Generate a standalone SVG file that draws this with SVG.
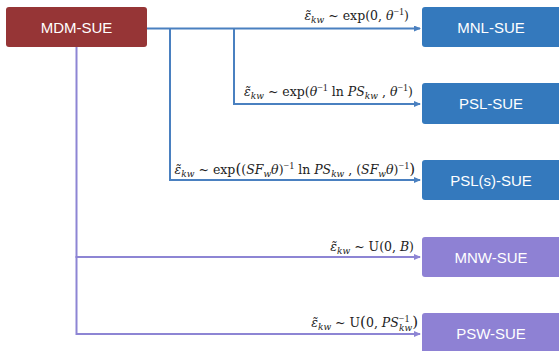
<svg xmlns="http://www.w3.org/2000/svg" width="559" height="351" viewBox="0 0 559 351">
<defs>
<marker id="ab" markerWidth="7" markerHeight="6" refX="6" refY="3" orient="auto" markerUnits="userSpaceOnUse"><path d="M0,0 L7,3 L0,6 z" fill="#4a80c0"/></marker>
<marker id="ap" markerWidth="7" markerHeight="6" refX="6" refY="3" orient="auto" markerUnits="userSpaceOnUse"><path d="M0,0 L7,3 L0,6 z" fill="#8d85d4"/></marker>
</defs>
<style>
.nb{fill:#3479bd}
.np{fill:#8e81d4}
.nr{fill:#963536}
.nt{font-family:"Liberation Sans",Arial,sans-serif;font-size:15px;fill:#ffffff;text-anchor:middle}
.cb{fill:none;stroke:#4a80c0;stroke-width:2;marker-end:url(#ab)}
.cp{fill:none;stroke:#8d85d4;stroke-width:2;marker-end:url(#ap)}
.lb{font-family:"DejaVu Serif","Liberation Serif",serif;font-size:12.5px;fill:#222222;text-anchor:end}
.i{font-style:italic}
.s{font-size:9px}
.u{font-family:"Liberation Serif",serif;font-size:10px}
</style>
<rect width="559" height="351" fill="#ffffff"/>
<g id="connectors">
<path class="cb" d="M147,28.5 H420"/>
<path class="cb" d="M170,28.5 V180 H420"/>
<path class="cb" d="M234,28.5 V104 H420"/>
<path class="cp" d="M76.5,47 V257 H420"/>
<path class="cp" d="M76.5,256 V334 H420"/>
<text class="lb" x="409" y="20"><tspan class="i">ε̃</tspan><tspan class="i s" dy="3">kw</tspan><tspan dy="-3"> ~ exp(0, </tspan><tspan class="i">θ</tspan><tspan class="u" dy="-5">−1</tspan><tspan dy="5">)</tspan></text>
<text class="lb" x="413" y="96"><tspan class="i">ε̃</tspan><tspan class="i s" dy="3">kw</tspan><tspan dy="-3"> ~ exp(</tspan><tspan class="i">θ</tspan><tspan class="u" dy="-5">−1</tspan><tspan dy="5"> ln </tspan><tspan class="i">PS</tspan><tspan class="i s" dy="3">kw</tspan><tspan dy="-3"> , </tspan><tspan class="i">θ</tspan><tspan class="u" dy="-5">−1</tspan><tspan dy="5">)</tspan></text>
<text class="lb" x="415" y="174"><tspan class="i">ε̃</tspan><tspan class="i s" dy="3">kw</tspan><tspan dy="-3"> ~ exp</tspan><tspan font-size="15">(</tspan><tspan>(</tspan><tspan class="i">SF</tspan><tspan class="i s" dy="3">w</tspan><tspan class="i" dy="-3">θ</tspan><tspan>)</tspan><tspan class="u" dy="-5">−1</tspan><tspan dy="5"> ln </tspan><tspan class="i">PS</tspan><tspan class="i s" dy="3">kw</tspan><tspan dy="-3"> , (</tspan><tspan class="i">SF</tspan><tspan class="i s" dy="3">w</tspan><tspan class="i" dy="-3">θ</tspan><tspan>)</tspan><tspan class="u" dy="-5">−1</tspan><tspan dy="5" font-size="15">)</tspan></text>
<text class="lb" x="414" y="251"><tspan class="i">ε̃</tspan><tspan class="i s" dy="3">kw</tspan><tspan dy="-3"> ~ U(0, </tspan><tspan class="i">B</tspan><tspan>)</tspan></text>
<text class="lb" x="418" y="327"><tspan class="i">ε̃</tspan><tspan class="i s" dy="3">kw</tspan><tspan dy="-3"> ~ U</tspan><tspan font-size="15">(</tspan><tspan>0, </tspan><tspan class="i">PS</tspan><tspan class="u" dy="-5">−1</tspan><tspan class="i s" dx="-10.5" dy="9">kw</tspan><tspan dy="-4" font-size="15">)</tspan></text>
</g>
<g id="mdm-sue"><rect class="nr" x="6" y="7" width="141" height="40" rx="3"/><text class="nt" x="76.5" y="32.5">MDM-SUE</text></g>
<g id="mnl-sue"><rect class="nb" x="422" y="7" width="140" height="40" rx="3"/><text class="nt" x="491" y="32.5">MNL-SUE</text></g>
<g id="psl-sue"><rect class="nb" x="422" y="83" width="140" height="41" rx="3"/><text class="nt" x="491" y="109">PSL-SUE</text></g>
<g id="psls-sue"><rect class="nb" x="422" y="160" width="140" height="40" rx="3"/><text class="nt" x="491" y="185.5">PSL(s)-SUE</text></g>
<g id="mnw-sue"><rect class="np" x="422" y="237" width="140" height="40" rx="3"/><text class="nt" x="491" y="262.5">MNW-SUE</text></g>
<g id="psw-sue"><rect class="np" x="422" y="313" width="140" height="42" rx="3"/><text class="nt" x="491" y="339">PSW-SUE</text></g>
</svg>
